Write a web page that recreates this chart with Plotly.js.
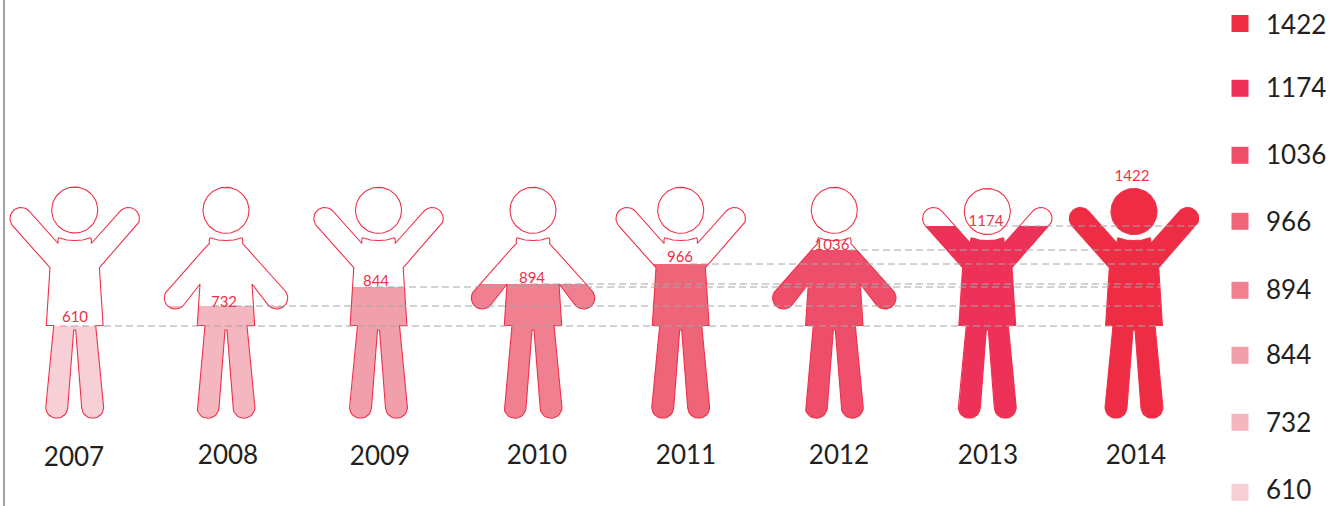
<!DOCTYPE html>
<html><head><meta charset="utf-8">
<script src="https://cdn.plot.ly/plotly-3.0.1.min.js"></script>
<style>html,body{margin:0;padding:0;background:#fff}#c{width:1330px;height:506px}</style>
</head><body><div id="c"></div>
<script>
// Data
const years      = ['2007','2008','2009','2010','2011','2012','2013','2014'];
const values     = [610,732,844,894,966,1036,1174,1422];
const colors     = ['#F7CFD6','#F4B6BF','#F29FAC','#F08090','#EE6478','#EF4E6A','#EE3158','#EE2C43'];
const poses      = ['up','down','up','down','up','down','up','up'];
const centers    = [74.7,226,378.5,533,680.7,834.3,987.3,1134];
const headYs     = [210,210.3,210.3,210.3,210.3,210.3,211.5,211.5];
const levelY     = [326,306,287,284,264,250,226,183];
const lineStartX = [60,212,365,520,690,850,990,1160];
const lineEndX   = [1160,1160,1160,1160,1160,1165,1195,1160];
const labelX     = [75,224,376,532,680,832,986,1132];
const labelY     = [318.5,303.5,282.5,279.5,258.5,246.5,222.5,177.5];
const yearX      = [74,228,380,537,686,839,988,1136];
const yearY      = [459,457.5,458.5,457.5,457.5,457.5,457.5,457.5];
const legendOrder= [7,6,5,4,3,2,1,0];
const legendY    = [23.5,88.3,155.3,221.3,290.3,355.3,422.3,492.3];
const legendTextY= [27.5,90,157.5,224.2,292.5,357.5,425.2,492];

const INK='#F0304A', HEAD_R=23;

function arc(cx,cy,r,a0,a1,n){
  const p=[];
  for(let i=0;i<=n;i++){const a=(a0+(a1-a0)*i/n)*Math.PI/180;p.push([cx+r*Math.cos(a),cy+r*Math.sin(a)]);}
  return p;
}
const collar=[[0,240.5],[-8,240],[-14,238.2],[-16,237.8],[-16.8,240],[-16.6,243.5]];
const legs=[[-21,325.5]].concat(arc(-18,407.3,11,176,4,14),[[-1,330]]);
const upper=collar.concat(arc(-53.7,218.5,11,-45,-220,18),[[-24.7,267.7],[-28.4,325.5]],legs);
const lower=collar.concat([[-21.3,248.3]],arc(-50.7,298,11,-140.5,-320.5,18),[[-26,284],[-28.7,325.5]],legs);
function body(left){return left.concat(left.slice().reverse().map(p=>[-p[0],p[1]]));}
const templates={up:body(upper),down:body(lower)};

// keep the part of a polygon at or below a level (pixel-down y axis)
function clipBelow(poly,lv){
  const out=[];
  for(let i=0;i<poly.length;i++){
    const a=poly[i],b=poly[(i+1)%poly.length];
    const ai=a[1]>=lv,bi=b[1]>=lv;
    if(ai)out.push(a);
    if(ai!==bi){const t=(lv-a[1])/(b[1]-a[1]);out.push([a[0]+t*(b[0]-a[0]),lv]);}
  }
  return out;
}
const close=p=>p.concat([p[0]]);
const traces=[];
const base={hoverinfo:'skip',showlegend:false,type:'scatter'};

// left axis rule
traces.push({...base,mode:'lines',x:[4,4],y:[0,506],line:{color:'#8C8C8C',width:1.6}});

years.forEach((yr,i)=>{
  const cx=centers[i],poly=templates[poses[i]];
  const headPts=arc(cx,headYs[i],HEAD_R,0,360,72);
  const fillPts=clipBelow(poly,levelY[i]);
  traces.push({...base,mode:'lines',fill:'toself',fillcolor:colors[i],line:{width:0,color:colors[i]},
    x:fillPts.map(p=>cx+p[0]),y:fillPts.map(p=>p[1])});
  if(levelY[i]<=headYs[i]-HEAD_R){
    traces.push({...base,mode:'lines',fill:'toself',fillcolor:colors[i],line:{width:0,color:colors[i]},
      x:headPts.map(p=>p[0]),y:headPts.map(p=>p[1])});
  }
  const out=close(poly);
  traces.push({...base,mode:'lines',line:{color:INK,width:1.1},x:out.map(p=>cx+p[0]),y:out.map(p=>p[1])});
  traces.push({...base,mode:'lines',line:{color:INK,width:1.1},x:headPts.map(p=>p[0]),y:headPts.map(p=>p[1])});
});

// dashed guides
values.forEach((v,i)=>{
  if(i===7)return;
  traces.push({...base,mode:'lines',x:[lineStartX[i],lineEndX[i]],y:[levelY[i],levelY[i]],
    line:{color:'#A6A6A6',width:1,dash:'7px,4px'}});
});

// value labels
traces.push({...base,mode:'text',x:labelX,y:labelY,text:values.map(String),textposition:'middle center',
  textfont:{family:'Lato, sans-serif',size:15,color:'#EE3048'},cliponaxis:false});
// year labels
traces.push({...base,mode:'text',x:yearX,y:yearY,text:years,textposition:'middle center',
  textfont:{family:'Lato, sans-serif',size:26,color:'#231F20'},cliponaxis:false});
// legend
traces.push({...base,mode:'markers',x:legendY.map(()=>1240),y:legendY,
  marker:{symbol:'square',size:17,color:legendOrder.map(k=>colors[k]),line:{width:0}}});
traces.push({...base,mode:'text',x:legendY.map(()=>1266),y:legendTextY,
  text:legendOrder.map(k=>String(values[k])),textposition:'middle right',
  textfont:{family:'Lato, sans-serif',size:26,color:'#231F20'},cliponaxis:false});

Plotly.newPlot('c',traces,{
  width:1330,height:506,margin:{l:0,r:0,t:0,b:0},paper_bgcolor:'#fff',plot_bgcolor:'#fff',
  showlegend:false,hovermode:false,
  xaxis:{range:[0,1330],visible:false,fixedrange:true},
  yaxis:{range:[506,0],visible:false,fixedrange:true}
},{displayModeBar:false,staticPlot:true});
</script></body></html>
